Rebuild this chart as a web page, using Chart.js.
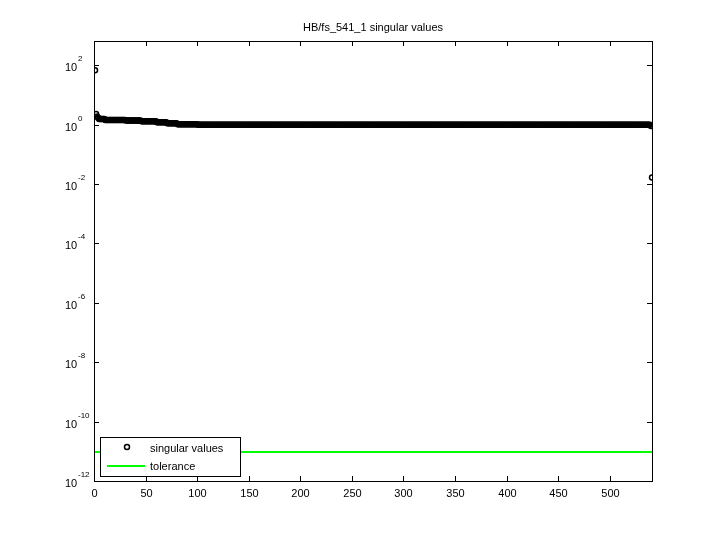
<!DOCTYPE html>
<html lang="en">
<head>
    <meta charset="UTF-8">
    <title>HB/fs_541_1 singular values</title>
    <script src="https://cdn.jsdelivr.net/npm/chart.js"></script>
    <style>
        body { margin: 0; background: #fff; }
        #wrap { width: 720px; height: 540px; }
    </style>
</head>
<body>
    <div id="wrap"><canvas id="svChart"></canvas></div>
    <script>
        // singular values, as runs of [count, value]
        const svRuns = [
            [1, 68], [1, 2.3], [1, 1.9], [1, 1.7], [6, 1.55], [20, 1.45],
            [15, 1.38], [15, 1.3], [10, 1.22], [10, 1.12], [20, 1.04],
            [439, 0.99], [1, 0.9], [1, 0.0166]
        ];
        const tolerance = 9.5e-12;
        const xMax = 541;
        const xTicks = [0, 50, 100, 150, 200, 250, 300, 350, 400, 450, 500];
        const yTickExps = [-12, -10, -8, -6, -4, -2, 0, 2];

        const svPoints = [];
        svRuns.forEach(([n, v]) => {
            for (let k = 0; k < n; k++) svPoints.push({ x: svPoints.length + 1, y: v });
        });

        const font = '11px "Liberation Sans", Arial, sans-serif';

        const frame = {
            id: 'frame',
            afterDraw(chart) {
                const { ctx, chartArea: a, scales: { x, y } } = chart;
                ctx.save();
                ctx.strokeStyle = '#000';
                ctx.lineWidth = 1;
                ctx.strokeRect(a.left + 0.5, a.top + 0.5, a.right - a.left, a.bottom - a.top);
                ctx.fillStyle = '#000';
                ctx.font = font;
                ctx.textAlign = 'center';
                ctx.textBaseline = 'top';
                xTicks.forEach(t => {
                    const px = Math.round(x.getPixelForValue(t)) + 0.5;
                    ctx.beginPath();
                    ctx.moveTo(px, a.bottom); ctx.lineTo(px, a.bottom - 5);
                    ctx.moveTo(px, a.top); ctx.lineTo(px, a.top + 5);
                    ctx.stroke();
                    ctx.fillText(String(t), px, a.bottom + 7);
                });
                yTickExps.forEach(e => {
                    const py = Math.round(y.getPixelForValue(Math.pow(10, e))) + 0.5;
                    ctx.beginPath();
                    ctx.moveTo(a.left, py); ctx.lineTo(a.left + 5, py);
                    ctx.moveTo(a.right, py); ctx.lineTo(a.right - 5, py);
                    ctx.stroke();
                    ctx.textAlign = 'left';
                    ctx.textBaseline = 'middle';
                    ctx.font = font;
                    ctx.fillText('10', a.left - 29, py + 2);
                    ctx.font = '8px "Liberation Sans", Arial, sans-serif';
                    ctx.fillText(String(e), a.left - 16, py - 7);
                });
                // title
                ctx.font = font;
                ctx.textAlign = 'center';
                ctx.textBaseline = 'middle';
                ctx.fillText('HB/fs_541_1 singular values', (a.left + a.right) / 2, 28);
                // legend
                const lx = a.left + 6, ly = 437, lw = 140, lh = 39;
                ctx.fillStyle = '#fff';
                ctx.fillRect(lx, ly, lw, lh);
                ctx.strokeRect(lx + 0.5, ly + 0.5, lw, lh);
                ctx.beginPath();
                ctx.arc(lx + 27, ly + 10, 2.5, 0, Math.PI * 2);
                ctx.lineWidth = 1.5;
                ctx.stroke();
                ctx.strokeStyle = '#00ff00';
                ctx.lineWidth = 2;
                ctx.beginPath();
                ctx.moveTo(lx + 7, ly + 29); ctx.lineTo(lx + 45, ly + 29);
                ctx.stroke();
                ctx.fillStyle = '#000';
                ctx.textAlign = 'left';
                ctx.fillText('singular values', lx + 50, ly + 12);
                ctx.fillText('tolerance', lx + 50, ly + 30);
                ctx.restore();
            }
        };

        new Chart(document.getElementById('svChart'), {
            type: 'scatter',
            data: {
                datasets: [
                    {
                        label: 'singular values',
                        data: svPoints,
                        showLine: false,
                        pointStyle: 'circle',
                        pointRadius: 2.5,
                        pointBorderWidth: 1.5,
                        borderColor: '#000',
                        backgroundColor: 'rgba(0,0,0,0)'
                    },
                    {
                        label: 'tolerance',
                        data: [{ x: 0, y: tolerance }, { x: xMax, y: tolerance }],
                        showLine: true,
                        pointRadius: 0,
                        borderColor: '#00ff00',
                        borderWidth: 2
                    }
                ]
            },
            options: {
                responsive: true,
                maintainAspectRatio: false,
                animation: false,
                layout: { padding: { left: 94, top: 41, right: 68, bottom: 59 } },
                plugins: { legend: { display: false }, tooltip: { enabled: false } },
                scales: {
                    x: { type: 'linear', min: 0, max: xMax, display: false },
                    y: { type: 'logarithmic', min: 1e-12, max: 660, display: false }
                }
            },
            plugins: [frame]
        });
    </script>
</body>
</html>
